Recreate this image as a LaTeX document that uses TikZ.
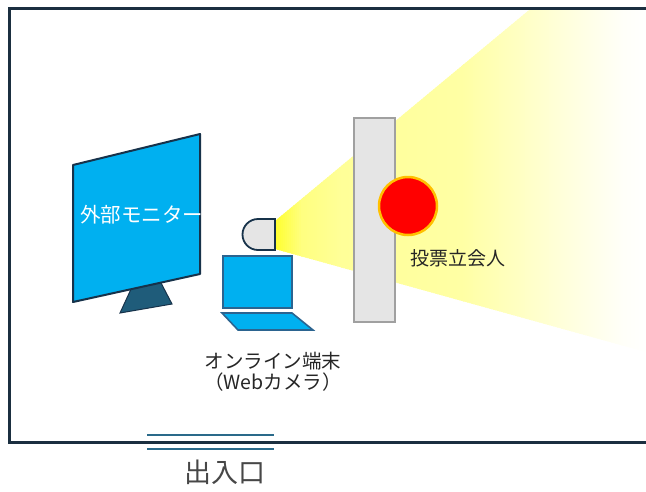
\documentclass[tikz,border=0pt]{standalone}
\usepackage{fontspec}
\newfontfamily\jpfont{Noto Sans CJK JP}
\definecolor{wallnavy}{HTML}{1B2F40}
\definecolor{screenblue}{HTML}{00B0F0}
\definecolor{screenline}{HTML}{17324A}
\definecolor{standteal}{HTML}{1F5C7A}
\definecolor{laptopline}{HTML}{2B6490}
\definecolor{boardfill}{HTML}{E5E5E5}
\definecolor{boardline}{HTML}{A0A0A0}
\definecolor{doorblue}{HTML}{2A6A8A}
\definecolor{gold}{HTML}{FFC000}
\definecolor{labelgray}{HTML}{262626}
% beam colours from the lens outwards
\definecolor{beamA}{HTML}{FFFF30}
\definecolor{beamB}{HTML}{FFFF80}
\definecolor{beamC}{HTML}{FFFF98}
\definecolor{beamD}{HTML}{FFFFA4}
\definecolor{beamE}{HTML}{FFFFDA}
\definecolor{beamF}{HTML}{FFFFF8}
\begin{document}
\begin{tikzpicture}[x=1pt,y=-1pt,
  wall/.style={draw=wallnavy,line width=3pt},
  doorline/.style={draw=doorblue,line width=2.6pt},
  label/.style={font=\jpfont\fontsize{19}{21}\selectfont,text=labelgray,inner sep=0pt,align=center}]
\useasboundingbox (0,0) rectangle (646,491);

% camera beam: thin vertical strips whose colour fades towards the right
\begin{scope}
  \clip (9,8) rectangle (646,442);
  \clip (275,221) -- (646,-87) -- (646,352) -- (275,249) -- cycle;
  \foreach \xa/\xb/\ca/\cb in {275/301/beamA/beamB, 301/341/beamB/beamC,
      341/461/beamC/beamD, 461/561/beamD/beamE, 561/621/beamE/beamF, 621/647/beamF/white}{
    \pgfmathtruncatemacro\n{(\xb-\xa)/2}
    \foreach \k in {0,...,\n}{
      \pgfmathsetmacro\xx{\xa+2*\k}
      \pgfmathtruncatemacro\pc{100-100*\k/\n}
      \fill[\ca!\pc!\cb] (\xx,-100) rectangle (\xx+2.6,460);
    }
  }
\end{scope}

% room walls, open to the right
\draw[wall,line join=miter] (646,8) -- (9,8) -- (9,442) -- (646,442);

% entrance
\draw[doorline] (147,435) -- (274,435);
\draw[doorline] (147,449) -- (274,449);
\node[font=\jpfont\fontsize{27}{30}\selectfont,text=labelgray!85,inner sep=0pt] (door) at (225,472) {出入口};

% partition and the observer behind it
\draw[fill=boardfill,draw=boardline,line width=2.2pt] (354,118) rectangle (395,322);
\node[circle,fill=red,draw=gold,line width=2.5pt,minimum size=58pt,inner sep=0pt] (observer) at (408,206) {};
\node[label] (observerlabel) at (458,258) {投票立会人};

% external monitor
\draw[fill=standteal,draw=screenline,line width=1pt]
  (132,287) -- (160,281) -- (172,304) -- (120,313) -- cycle;
\draw[fill=screenblue,draw=screenline,line width=2pt,line join=round]
  (73,165) -- (200,134) -- (200,274) -- (73,302) -- cycle;
\node[font=\jpfont\fontsize{20.5}{22}\selectfont,text=white,inner sep=0pt,anchor=west] (monitorlabel) at (80,215) {外部モニター};

% web camera (flat lens side facing right)
\draw[fill=boardfill,draw=screenline,line width=1.8pt]
  (275,219) -- (258,219) arc[start angle=270,end angle=90,radius=15.5] -- (275,250) -- cycle;

% laptop
\draw[fill=screenblue,draw=laptopline,line width=1.6pt] (223,256) rectangle (292,308);
\draw[fill=screenblue,draw=laptopline,line width=1.6pt]
  (222,313) -- (292,313) -- (313,330) -- (238,330) -- cycle;
\node[label,font=\jpfont\fontsize{19.5}{21}\selectfont] (laptoplabel) at (273,372) {オンライン端末\\（Webカメラ）};
\end{tikzpicture}
\end{document}
